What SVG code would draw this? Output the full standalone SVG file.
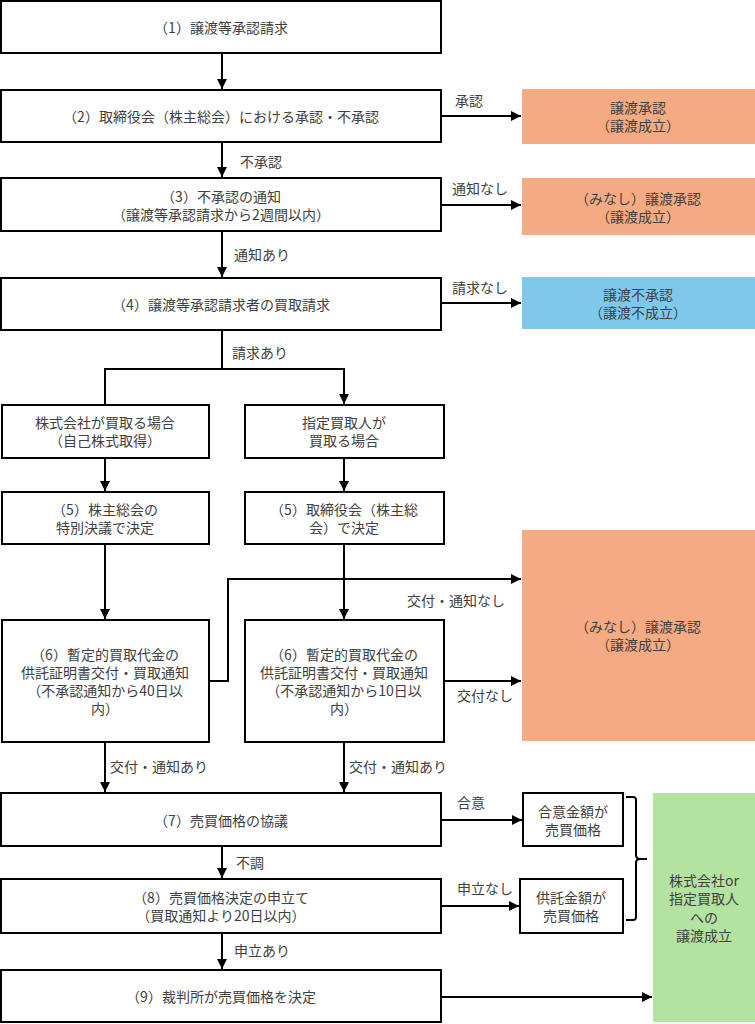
<svg xmlns="http://www.w3.org/2000/svg" width="755" height="1024" viewBox="0 0 755 1024">
<defs>
<marker id="ah" markerUnits="userSpaceOnUse" markerWidth="12" markerHeight="10" refX="10" refY="5" orient="auto">
<path d="M0,0 L10,5 L0,10 Z" fill="#000"/>
</marker>
<style>
.box{fill:#fff;stroke:#000;stroke-width:2}
.or{fill:#F4AA82}
.bl{fill:#7EC9EB}
.gr{fill:#B3E2A1}
text{font-family:"Noto Sans CJK JP","Noto Sans",sans-serif;font-size:14px;fill:#404040;dominant-baseline:central}
.c{text-anchor:middle}
.ln{fill:none;stroke:#000;stroke-width:2}
.ar{fill:none;stroke:#000;stroke-width:2;marker-end:url(#ah)}
</style>
</defs>
<rect width="755" height="1024" fill="#fff"/>

<g id="connectors">
<path class="ar" d="M222 53 V89"/>
<path class="ar" d="M441 116 H521"/>
<path class="ar" d="M222 142 V177"/>
<path class="ar" d="M441 205 H521"/>
<path class="ar" d="M222 231 V277"/>
<path class="ar" d="M441 303 H521"/>
<path class="ln" d="M222 330 V369"/>
<path class="ar" d="M105 404 V369 H344 V404"/>
<path class="ar" d="M105 458 V491"/>
<path class="ar" d="M344 458 V491"/>
<path class="ar" d="M105 544 V619"/>
<path class="ar" d="M344 544 V619"/>
<path class="ar" d="M209 681 H228 V579 H521"/>
<path class="ar" d="M444 681 H521"/>
<path class="ar" d="M105 742 V792"/>
<path class="ar" d="M344 742 V792"/>
<path class="ar" d="M441 820 H522"/>
<path class="ar" d="M222 846 V878"/>
<path class="ar" d="M441 906 H519"/>
<path class="ar" d="M222 933 V969"/>
<path class="ar" d="M441 997 H652"/>
<path class="ln" d="M626 797 H633 Q636 797 636 800 V855 Q636 859 640 859 H647 M640 859 Q636 859 636 863 V917 Q636 920 633 920 H626"/>
<text x="455" y="100">承認</text>
<text x="240" y="161">不承認</text>
<text x="452" y="188">通知なし</text>
<text x="234" y="254">通知あり</text>
<text x="452" y="287">請求なし</text>
<text x="232" y="352">請求あり</text>
<text x="407" y="600">交付・通知なし</text>
<text x="457" y="695">交付なし</text>
<text x="110" y="766">交付・通知あり</text>
<text x="349" y="766">交付・通知あり</text>
<text x="457" y="802">合意</text>
<text x="236" y="862">不調</text>
<text x="457" y="888">申立なし</text>
<text x="234" y="950">申立あり</text>
</g>

<g id="n1"><rect class="box" x="1" y="1" width="440" height="52"/><text class="c" x="221" y="27">（1）譲渡等承認請求</text></g>
<g id="n2"><rect class="box" x="1" y="90" width="440" height="52"/><text class="c" x="221" y="116">（2）取締役会（株主総会）における承認・不承認</text></g>
<g id="n3"><rect class="box" x="1" y="178" width="440" height="53"/><text class="c" x="221" y="196">（3）不承認の通知</text><text class="c" x="221" y="214">（譲渡等承認請求から2週間以内）</text></g>
<g id="n4"><rect class="box" x="1" y="278" width="440" height="52"/><text class="c" x="221" y="304">（4）譲渡等承認請求者の買取請求</text></g>
<g id="o1"><rect class="or" x="522" y="89" width="233" height="55"/><text class="c" x="638" y="107">譲渡承認</text><text class="c" x="638" y="125">（譲渡成立）</text></g>
<g id="o2"><rect class="or" x="522" y="178" width="233" height="57"/><text class="c" x="638" y="198">（みなし）譲渡承認</text><text class="c" x="638" y="216">（譲渡成立）</text></g>
<g id="b1"><rect class="bl" x="522" y="277" width="233" height="52"/><text class="c" x="638" y="294">譲渡不承認</text><text class="c" x="638" y="312">（譲渡不成立）</text></g>
<g id="nA"><rect class="box" x="2" y="405" width="207" height="53"/><text class="c" x="105" y="422">株式会社が買取る場合</text><text class="c" x="105" y="440">（自己株式取得）</text></g>
<g id="nB"><rect class="box" x="245" y="405" width="199" height="53"/><text class="c" x="344" y="422">指定買取人が</text><text class="c" x="344" y="440">買取る場合</text></g>
<g id="n5A"><rect class="box" x="2" y="492" width="207" height="52"/><text class="c" x="105" y="509">（5）株主総会の</text><text class="c" x="105" y="527">特別決議で決定</text></g>
<g id="n5B"><rect class="box" x="245" y="492" width="199" height="52"/><text class="c" x="344" y="509">（5）取締役会（株主総</text><text class="c" x="344" y="527">会）で決定</text></g>
<g id="o3"><rect class="or" x="522" y="530" width="233" height="211"/><text class="c" x="638" y="626">（みなし）譲渡承認</text><text class="c" x="638" y="644">（譲渡成立）</text></g>
<g id="n6A"><rect class="box" x="2" y="620" width="207" height="122"/><text class="c" x="105" y="654">（6）暫定的買取代金の</text><text class="c" x="105" y="672">供託証明書交付・買取通知</text><text class="c" x="105" y="690">（不承認通知から40日以</text><text class="c" x="105" y="708">内）</text></g>
<g id="n6B"><rect class="box" x="245" y="620" width="199" height="122"/><text class="c" x="344" y="654">（6）暫定的買取代金の</text><text class="c" x="344" y="672">供託証明書交付・買取通知</text><text class="c" x="344" y="690">（不承認通知から10日以</text><text class="c" x="344" y="708">内）</text></g>
<g id="n7"><rect class="box" x="1" y="793" width="440" height="53"/><text class="c" x="221" y="820">（7）売買価格の協議</text></g>
<g id="nG"><rect class="box" x="523" y="793" width="100" height="53"/><text class="c" x="573" y="811">合意金額が</text><text class="c" x="573" y="829">売買価格</text></g>
<g id="n8"><rect class="box" x="1" y="879" width="440" height="54"/><text class="c" x="221" y="897">（8）売買価格決定の申立て</text><text class="c" x="221" y="915">（買取通知より20日以内）</text></g>
<g id="nK"><rect class="box" x="520" y="879" width="103" height="54"/><text class="c" x="571" y="897">供託金額が</text><text class="c" x="571" y="915">売買価格</text></g>
<g id="g1"><rect class="gr" x="653" y="793" width="102" height="229"/><text class="c" x="704" y="880">株式会社or</text><text class="c" x="704" y="898">指定買取人</text><text class="c" x="704" y="917">への</text><text class="c" x="704" y="935">譲渡成立</text></g>
<g id="n9"><rect class="box" x="1" y="970" width="440" height="52"/><text class="c" x="221" y="996">（9）裁判所が売買価格を決定</text></g>
</svg>
